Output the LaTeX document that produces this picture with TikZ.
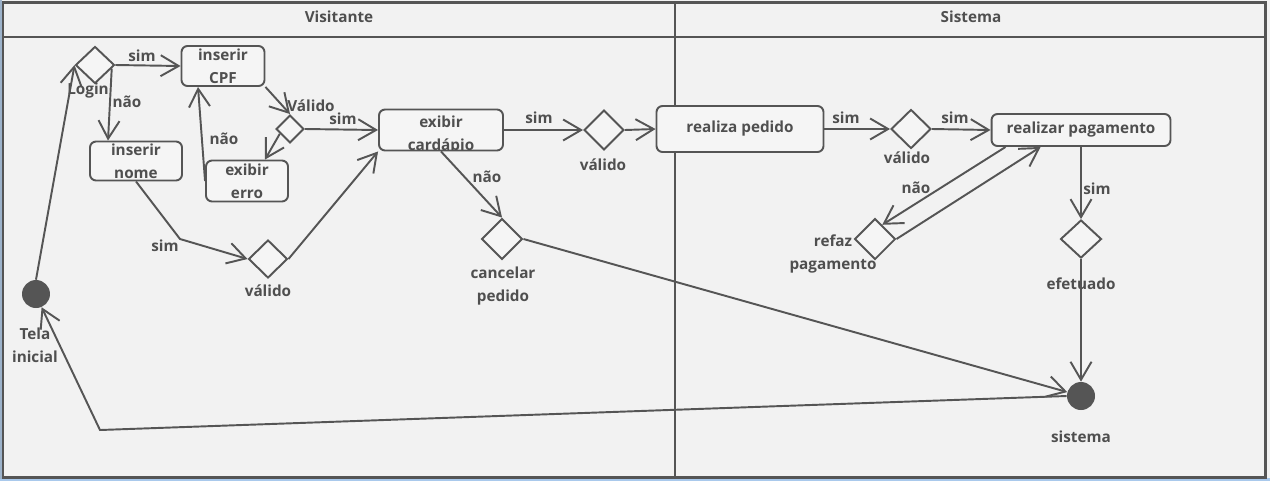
\documentclass[tikz,border=0pt]{standalone}
\usepackage{fontspec}
\setmainfont{Open Sans}
\usetikzlibrary{arrows.meta,shapes.geometric,calc}
\definecolor{bg}{HTML}{F2F2F2}
\definecolor{nodefill}{HTML}{F5F5F5}
\definecolor{ln}{HTML}{555555}
\definecolor{txt}{HTML}{4F4F4F}
\definecolor{edgeblue}{HTML}{A9C9EC}
\newcommand\tfont{\fontsize{8.7}{13}\selectfont\bfseries}
\begin{document}
\begin{tikzpicture}[x=0.02cm,y=-0.02cm,
  act/.style={rectangle,rounded corners=0.12cm,draw=ln,line width=1.1pt,fill=nodefill,align=center,font=\tfont,text=txt,inner sep=0pt},
  dec/.style={diamond,draw=ln,line width=1.1pt,fill=nodefill,inner sep=0pt,minimum width=0.8cm,minimum height=0.8cm},
  smalldec/.style={dec,minimum width=0.56cm,minimum height=0.56cm},
  term/.style={circle,fill=ln,draw=none,inner sep=0pt,minimum size=0.56cm},
  lbl/.style={font=\tfont,text=txt,align=center,inner sep=0pt},
  flow/.style={draw=ln,line width=1.1pt,-{Straight Barb[length=0.36cm,width=0.42cm]}}]
\useasboundingbox (0,0) rectangle (1270,481);
% background and lanes
\fill[bg] (0,0) rectangle (1270,481);
\draw[edgeblue,line width=1.8pt] (0,479.5) -- (1270,479.5);
\draw[edgeblue!70!gray,line width=0.8pt] (0.8,0) -- (0.8,479);
\draw[ln,line width=1.3pt] (3,2.5) rectangle (1265.5,477.5);
\draw[ln,line width=1.6pt] (3,37) -- (1265.5,37);
\draw[ln,line width=1.2pt] (675,2.5) -- (675,477.5);
\node[lbl] (hvis) at (339,17) {Visitante};
\node[lbl] (hsis) at (971,17) {Sistema};
% nodes
\node[term] (tela) at (36,294) {};
\node[lbl] (telal) at (35,345) {Tela\\inicial};
\node[dec,minimum width=0.78cm,minimum height=0.74cm] (login) at (95,65) {};
\node[lbl] (loginl) at (88,91) {Login};
\node[act,minimum width=1.66cm,minimum height=0.8cm] (cpf) at (223,66) {inserir\\CPF};
\node[act,minimum width=1.84cm,minimum height=0.78cm] (nome) at (136,161) {inserir\\nome};
\node[act,minimum width=1.64cm,minimum height=0.82cm] (erro) at (247,181) {exibir\\erro};
\node[smalldec] (v1) at (290,129) {};
\node[lbl] (v1l) at (311,106) {Válido};
\node[act,minimum width=2.48cm,minimum height=0.82cm] (card) at (441,130) {};
\begin{scope}
  \clip ($(card.north west)+(1,1.5)$) rectangle ($(card.south east)+(-1,-1.6)$);
  \node[lbl] (cardtxt) at (441,135) {exibir\\cardápio};
\end{scope}
\node[dec,minimum width=0.78cm,minimum height=0.76cm] (v2) at (268,259) {};
\node[lbl] (v2l) at (268,291) {válido};
\node[dec] (v3) at (604,130) {};
\node[lbl] (v3l) at (603,165) {válido};
\node[dec,minimum width=0.82cm,minimum height=0.82cm] (canc) at (502,239) {};
\node[lbl] (cancl) at (503,286) {cancelar\\pedido};
\node[act,minimum width=3.34cm,minimum height=0.92cm] (ped) at (740,129) {realiza pedido};
\node[dec,minimum height=0.78cm] (v4) at (911,129) {};
\node[lbl] (v4l) at (907,158) {válido};
\node[act,minimum width=3.58cm,minimum height=0.64cm] (pag) at (1081,130) {realizar pagamento};
\node[dec,minimum width=0.82cm,minimum height=0.82cm] (refaz) at (875,239) {};
\node[lbl] (refazl) at (833,254) {refaz\\pagamento};
\node[dec,minimum width=0.82cm,minimum height=0.76cm] (efet) at (1081,239) {};
\node[lbl] (efetl) at (1081,284) {efetuado};
\node[term] (sis) at (1081,396) {};
\node[lbl] (sisl) at (1081,437) {sistema};
% bend points
\coordinate (b1) at (180,239);
\coordinate (b2) at (100,430);
% connectors
\draw[flow] (tela.north) -- (login.west);
\draw[flow] (login.east) -- (cpf.west);
\draw[flow] (login.-12) -- ($(nome.north)+(-28,0)$);
\draw[flow] (cpf.south east) -- (v1.north);
\draw[flow] (v1.205) -- ($(erro.north)+(18,0)$);
\draw[flow] (erro.west) -- ($(cpf.south)+(-25,0)$);
\draw[flow] (v1.east) -- (card.west);
\draw[flow] (nome.south) -- (b1) -- (v2.west);
\draw[flow] (v2.east) -- (card.south west);
\draw[flow] (card.east) -- (v3.west);
\draw[flow] (card.south) -- (canc.north);
\draw[flow] (v3.east) -- (ped.west);
\draw[flow] (ped.east) -- (v4.west);
\draw[flow] (v4.east) -- (pag.west);
\draw[flow] ($(pag.south west)+(15,0)$) -- (refaz.63);
\draw[flow] (refaz.east) -- ($(pag.south west)+(50,0)$);
\draw[flow] (pag.south) -- (efet.north);
\draw[flow] (efet.south) -- (sis.north);
\draw[flow] (canc.east) -- (sis.164);
\draw[flow] (sis.west) -- (b2) -- (tela.-67);
% connector labels
\node[lbl] (l1) at (142,56) {sim};
\node[lbl] (l2) at (127,102) {não};
\node[lbl] (l3) at (224,139) {não};
\node[lbl] (l4) at (343,119) {sim};
\node[lbl] (l5) at (165,246) {sim};
\node[lbl] (l6) at (539,118) {sim};
\node[lbl] (l7) at (487,177) {não};
\node[lbl] (l8) at (846,118) {sim};
\node[lbl] (l9) at (955,118) {sim};
\node[lbl] (l10) at (916,188) {não};
\node[lbl] (l11) at (1097,189) {sim};
\end{tikzpicture}
\end{document}
